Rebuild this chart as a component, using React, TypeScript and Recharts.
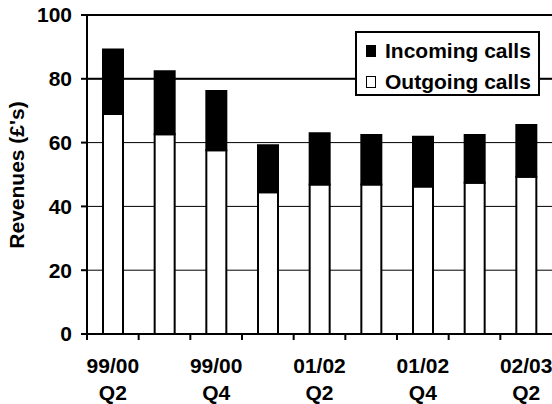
import { BarChart, Bar, XAxis, YAxis, CartesianGrid, ReferenceLine } from "recharts";

const quarters = ["99/00 Q2", "99/00 Q3", "99/00 Q4", "00/01 Q1", "01/02 Q2", "01/02 Q3", "01/02 Q4", "02/03 Q1", "02/03 Q2"];
const outgoing = [69, 62.6, 57.6, 44.4, 46.9, 46.9, 46.2, 47.4, 49.3];
const incoming = [20.2, 19.8, 18.6, 14.8, 16, 15.5, 15.6, 15, 16.2];
const yTicks = [0, 20, 40, 60, 80, 100];

const data = quarters.map((q, i) => ({ q, outgoing: outgoing[i], incoming: incoming[i] }));

const FONT = "'Liberation Sans', Arial, sans-serif";
const FS = 21;

const W = 552;
const H = 404;
const PLOT_LEFT = 87;
const BAND = (W - PLOT_LEFT) / quarters.length;

function QuarterTick(props: any) {
  const { x, y, payload, index } = props;
  const [year, qtr] = String(payload.value).split(" ");
  const left = x - BAND / 2;
  return (
    <g>
      <line x1={left} x2={left} y1={y} y2={y + 6} stroke="#000" strokeWidth={2} />
      {index % 2 === 0 && (
        <text x={x} y={y} textAnchor="middle" fontFamily={FONT} fontSize={FS} fontWeight="bold" fill="#000">
          <tspan x={x} dy={39}>{year}</tspan>
          <tspan x={x} dy={27}>{qtr}</tspan>
        </text>
      )}
    </g>
  );
}

function YLabel() {
  return (
    <text
      x={24}
      y={175}
      transform="rotate(-90 24 175)"
      textAnchor="middle"
      fontFamily={FONT}
      fontSize={FS}
      fontWeight="bold"
      fill="#000"
    >
      Revenues (£'s)
    </text>
  );
}

function CallsLegend() {
  const items = [
    { name: "Incoming calls", color: "#000" },
    { name: "Outgoing calls", color: "#fff" },
  ];
  return (
    <div
      style={{
        position: "absolute",
        left: 355,
        top: 31,
        border: "2px solid #000",
        background: "#fff",
        width: 185,
        height: 65,
        boxSizing: "border-box",
        padding: "2px 0 0 9px",
        fontFamily: FONT,
        fontWeight: "bold",
        fontSize: FS,
        lineHeight: "31px",
      }}
    >
      {items.map((it) => (
        <div key={it.name} style={{ display: "flex", alignItems: "center", whiteSpace: "nowrap" }}>
          <span
            style={{
              display: "inline-block",
              width: 8,
              height: 10,
              border: "1.5px solid #000",
              background: it.color,
              marginRight: 9,
            }}
          />
          {it.name}
        </div>
      ))}
    </div>
  );
}

export default function App() {
  return (
    <div style={{ position: "relative", width: W, height: H, background: "#fff" }}>
      <style>{`body{margin:0}`}</style>
      <BarChart width={W} height={H} data={data} margin={{ top: 15, right: 0, left: 0, bottom: 0 }} barSize={20}>
        <CartesianGrid vertical={false} stroke="#000" strokeWidth={1} />
        <ReferenceLine y={80} stroke="#000" strokeWidth={2} />
        <ReferenceLine y={100} stroke="#000" strokeWidth={2} />
        <XAxis
          dataKey="q"
          height={70}
          interval={0}
          stroke="#000"
          strokeWidth={2}
          tickLine={false}
          tickSize={0}
          tickMargin={0}
          tick={<QuarterTick />}
        />
        <YAxis
          width={PLOT_LEFT}
          domain={[0, 100]}
          ticks={yTicks}
          interval={0}
          stroke="#000"
          strokeWidth={2}
          tickSize={6}
          tickMargin={9}
          tick={{ fontFamily: FONT, fontSize: FS, fontWeight: "bold", fill: "#000" }}
          label={<YLabel />}
        />
        <Bar dataKey="outgoing" stackId="a" fill="#fff" stroke="#000" strokeWidth={2} isAnimationActive={false} />
        <Bar dataKey="incoming" stackId="a" fill="#000" stroke="#000" strokeWidth={2} isAnimationActive={false} />
      </BarChart>
      <CallsLegend />
    </div>
  );
}
